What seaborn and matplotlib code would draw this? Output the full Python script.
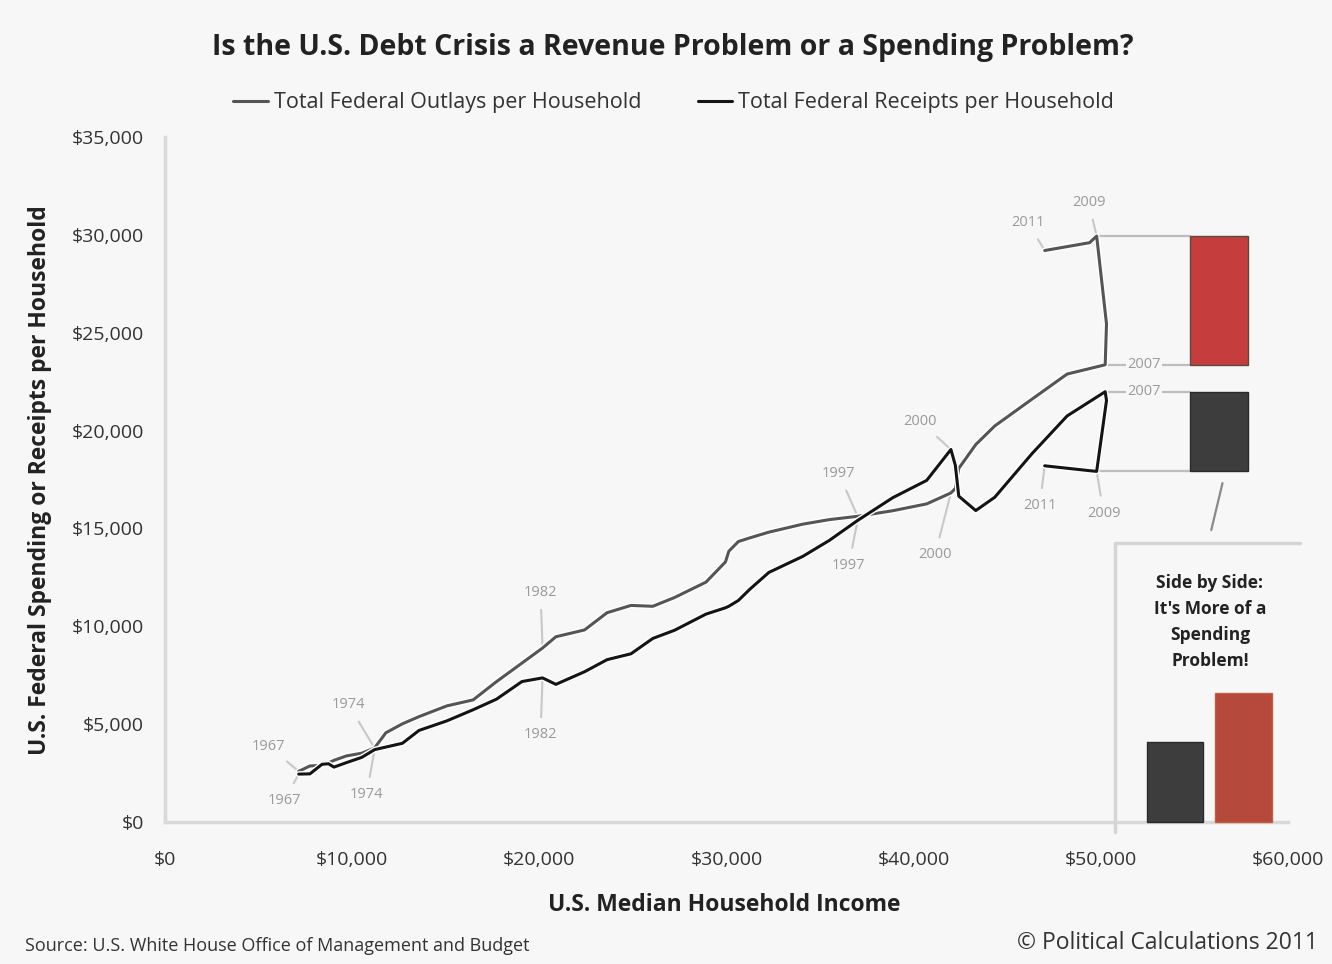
import numpy as np
import pandas as pd
import matplotlib
matplotlib.use("Agg")
import matplotlib.pyplot as plt
import seaborn as sns
from matplotlib.ticker import FuncFormatter
from matplotlib.lines import Line2D
import matplotlib.patheffects as pe

# ---------------- data ----------------
years = list(range(1967, 2012))
median_income = [7143, 7743, 8389, 8734, 9028, 9697, 10512, 11197, 11800, 12686,
                 13572, 15064, 16461, 17710, 19074, 20171, 20885, 22415, 23618, 24897,
                 26061, 27225, 28906, 29943, 30126, 30636, 31241, 32264, 34076, 35492,
                 37005, 38885, 40696, 41990, 42228, 42409, 43318, 44334, 46326, 48201,
                 50233, 50303, 49777, 49400, 47000]
outlays = [2590, 2863, 2896, 3019, 3151, 3378, 3515, 3784, 4558, 5018,
           5384, 5934, 6238, 7171, 8122, 8888, 9466, 9813, 10693, 11066,
           11021, 11470, 12258, 13287, 13837, 14331, 14515, 14810, 15218, 15450,
           15620, 15905, 16254, 16814, 17043, 18067, 19285, 20237, 21608, 22889,
           23362, 25448, 29938, 29600, 29200]
receipts = [2447, 2460, 2948, 2975, 2805, 3035, 3302, 3697, 3829, 4023,
            4679, 5169, 5734, 6276, 7177, 7363, 7033, 7677, 8294, 8595,
            9378, 9797, 10623, 10944, 11024, 11320, 11888, 12752, 13572, 14387,
            15407, 16571, 17455, 19034, 18217, 16650, 15913, 16594, 18825, 20749,
            21986, 21536, 17915, 17950, 18200]
series_names = ["Total Federal Outlays per Household", "Total Federal Receipts per Household"]

x_ticks = [0, 10000, 20000, 30000, 40000, 50000, 60000]
y_ticks = [0, 5000, 10000, 15000, 20000, 25000, 30000, 35000]

# (year, series index, dx px, dy px) annotation placements
annotations = [
    (1967, 0, -30, 25), (1967, 1, -14, -26),
    (1974, 0, -26, 43), (1974, 1, -8, -45),
    (1982, 0, -2, 56), (1982, 1, -2, -57),
    (1997, 0, -19, 43), (1997, 1, -9, -45),
    (2000, 1, -31, 28), (2000, 0, -16, -62),
    (2009, 0, -8, 34), (2011, 0, -17, 28),
    (2011, 1, -5, -40), (2009, 1, 7, -42),
]

BG = "#f7f7f7"
df = pd.DataFrame({
    "income": median_income * 2,
    "value": outlays + receipts,
    "series": [series_names[0]] * len(years) + [series_names[1]] * len(years),
})

sns.set_style("white")
plt.rcParams["font.family"] = ["Open Sans", "DejaVu Sans"]

fig = plt.figure(figsize=(13.32, 9.64), dpi=100, facecolor=BG)
ax = fig.add_axes([165 / 1332, 1 - 822 / 964, (1288 - 165) / 1332, (822 - 137) / 964])
ax.set_facecolor(BG)

palette = {series_names[0]: "#555555", series_names[1]: "#141414"}
sns.lineplot(data=df, x="income", y="value", hue="series", sort=False, estimator=None,
             palette=palette, linewidth=2.2, ax=ax, zorder=4)
for ln in ax.get_lines():
    ln.set_path_effects([pe.Stroke(linewidth=4.2, foreground="white"), pe.Normal()])

ax.set_xlim(0, 60000)
ax.set_ylim(0, 35000)
ax.set_xticks(x_ticks)
ax.set_yticks(y_ticks)
fmt = FuncFormatter(lambda v, p: "${:,.0f}".format(v))
ax.xaxis.set_major_formatter(fmt)
ax.yaxis.set_major_formatter(fmt)
ax.tick_params(axis="x", length=7, width=2, color="#d9d9d9", pad=14, labelsize=14, labelcolor="#333333")
ax.tick_params(axis="y", length=7, width=2, color="#d9d9d9", pad=8, labelsize=14, labelcolor="#333333")
ax.set_xlabel("")
ax.set_ylabel("")
for s in ["top", "right"]:
    ax.spines[s].set_visible(False)
for s in ["left", "bottom"]:
    ax.spines[s].set_color("#d9d9d9")
    ax.spines[s].set_linewidth(2.5)

# legend above plot
sns.move_legend(ax, "center", bbox_to_anchor=(0.453, 1.05), ncol=2, frameon=False,
                title=None, fontsize=15.5, columnspacing=2.6, handlelength=1.6,
                handletextpad=0.3)
for t in ax.get_legend().get_texts():
    t.set_color("#333333")

# year annotations
series_vals = [outlays, receipts]
px2pt = 72 / 100
for yr, si, dx, dy in annotations:
    i = years.index(yr)
    ax.annotate(str(yr), xy=(median_income[i], series_vals[si][i]),
                xytext=(dx * px2pt, dy * px2pt), textcoords="offset points",
                ha="center", va="center", fontsize=10.5, color="#9a9a9a",
                arrowprops=dict(arrowstyle="-", color="#c8c8c8", lw=1.5,
                                shrinkA=5, shrinkB=2), zorder=3)

# floating comparison bars
i07, i09 = years.index(2007), years.index(2009)
bar_x, bar_w = 56310, 3100
bar_left = bar_x - bar_w / 2
ax.bar(bar_x, outlays[i09] - outlays[i07], bottom=outlays[i07], width=bar_w,
       color="#c63d3d", edgecolor="#5a4a40", linewidth=1.0, zorder=3, clip_on=False)
ax.bar(bar_x, receipts[i07] - receipts[i09], bottom=receipts[i09], width=bar_w,
       color="#3d3d3d", edgecolor="#2a2a2a", linewidth=1.0, zorder=3, clip_on=False)

conn = dict(color="#bdbdbd", lw=1.6, zorder=2)
ax.plot([median_income[i09], bar_left], [outlays[i09], outlays[i09]], **conn)
ax.plot([median_income[i07], bar_left], [outlays[i07], outlays[i07]], **conn)
ax.plot([median_income[i07], bar_left], [receipts[i07], receipts[i07]], **conn)
ax.plot([median_income[i09], bar_left], [receipts[i09], receipts[i09]], **conn)
for v in (outlays[i07], receipts[i07]):
    ax.text(52300, v, "2007", ha="center", va="center", fontsize=10.5, color="#9a9a9a",
            bbox=dict(facecolor=BG, edgecolor="none", pad=1), zorder=3)

# connector to inset
ax.plot([56500, 55900], [receipts[i09] - 600, receipts[i09] - 3000], color="#8a8a8a",
        lw=1.6, clip_on=False, zorder=3)

# inset box (figure coords)
bx0, bx1, by0, by1 = 1115, 1300, 543, 832
fig.add_artist(Line2D([bx0 / 1332, bx0 / 1332], [1 - by1 / 964, 1 - by0 / 964],
                      color="#d5d5d5", lw=2.5))
fig.add_artist(Line2D([bx0 / 1332, bx1 / 1332], [1 - by0 / 964, 1 - by0 / 964],
                      color="#d5d5d5", lw=2.5))
fig.text(1210 / 1332, 1 - 622 / 964, "Side by Side:\nIt's More of a\nSpending\nProblem!",
         ha="center", va="center", fontsize=12.5, fontweight="bold", color="#222222",
         linespacing=1.55)
ax.bar(53960, receipts[i07] - receipts[i09], width=2990, color="#3d3d3d",
       edgecolor="#2a2a2a", linewidth=1.0, zorder=3, clip_on=False)
ax.bar(57620, outlays[i09] - outlays[i07], width=3050, color="#b54a3c",
       edgecolor="#c06040", linewidth=1.0, zorder=3, clip_on=False)

# titles and labels
fig.text(0.505, 1 - 47 / 964, "Is the U.S. Debt Crisis a Revenue Problem or a Spending Problem?",
         ha="center", va="center", fontsize=20.5, fontweight="bold", color="#222222")
fig.text(724 / 1332, 1 - 905 / 964, "U.S. Median Household Income", ha="center", va="center",
         fontsize=16.5, fontweight="bold", color="#222222")
fig.text(40 / 1332, 1 - 480 / 964, "U.S. Federal Spending or Receipts per Household",
         ha="center", va="center", rotation=90, fontsize=16.5, fontweight="bold", color="#222222")
fig.text(25 / 1332, 1 - 946 / 964, "Source: U.S. White House Office of Management and Budget",
         ha="left", va="center", fontsize=13, color="#333333")
fig.text(1318 / 1332, 1 - 943 / 964, "\u00a9 Political Calculations 2011",
         ha="right", va="center", fontsize=16.5, color="#333333")

fig.savefig("out.png", dpi=100, facecolor=BG)
